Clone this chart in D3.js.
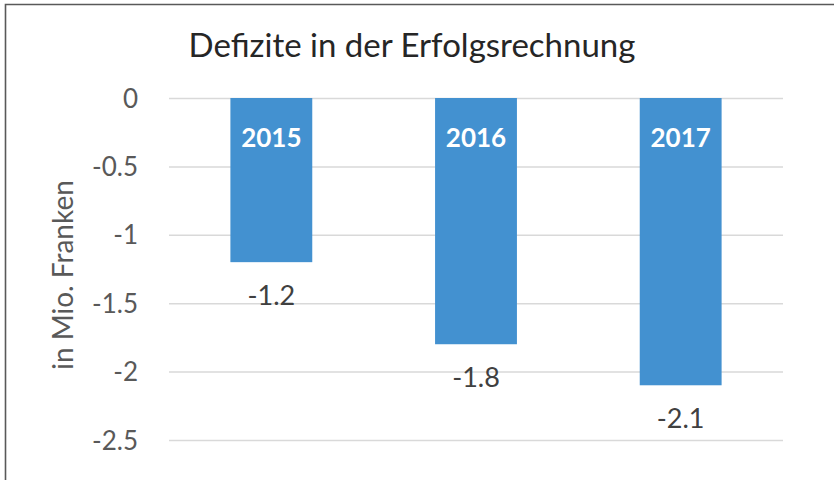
<!doctype html>
<html>
<head>
<meta charset="utf-8">
<script src="https://cdnjs.cloudflare.com/ajax/libs/d3/7.8.5/d3.min.js"></script>
<style>
  body { margin: 0; background: #fff; }
  svg { display: block; font-family: Lato, "Open Sans", sans-serif; }
</style>
</head>
<body>
<svg id="chart" width="834" height="480"></svg>
<script>
// chart data
var years = ["2015", "2016", "2017"];
var deficits = [-1.2, -1.8, -2.1];
var yTicks = [0, -0.5, -1, -1.5, -2, -2.5];
var titleText = "Defizite in der Erfolgsrechnung";
var yLabelText = "in Mio. Franken";

var svg = d3.select("#chart");

// outer frame (top + left visible only)
svg.append("path")
  .attr("d", "M5.5,480 V4.5 H834")
  .attr("fill", "none")
  .attr("stroke", "#595959")
  .attr("stroke-width", 1.6);

var xScale = d3.scaleBand().domain(years).range([169, 783])
  .paddingInner(0.6).paddingOuter(0.3);
var yScale = d3.scaleLinear().domain([0, -2.5]).range([98, 440]);

// grid lines
var yGrid = d3.axisLeft(yScale).tickValues(yTicks).tickFormat("").tickSize(-(783 - 169));
var gridG = svg.append("g").attr("transform", "translate(169,0)").call(yGrid);
gridG.select(".domain").remove();
gridG.selectAll("line").attr("stroke", "#d9d9d9").attr("stroke-width", 1.5);

// y axis labels
var yAxis = d3.axisLeft(yScale).tickValues(yTicks).tickSize(0).tickPadding(0)
  .tickFormat(function(d) { return String(d); });
var axG = svg.append("g").attr("transform", "translate(138,0)").call(yAxis);
axG.select(".domain").remove();
axG.selectAll("text")
  .attr("font-family", "Lato, sans-serif")
  .attr("font-size", 26)
  .attr("fill", "#595959")
  .attr("dy", "0.35em");

// bars
svg.selectAll("rect.bar").data(deficits).enter().append("rect")
  .attr("class", "bar")
  .attr("x", function(d, i) { return xScale(years[i]); })
  .attr("y", yScale(0))
  .attr("width", xScale.bandwidth())
  .attr("height", function(d) { return yScale(d) - yScale(0); })
  .attr("fill", "#4391d0");

// category labels inside bars
svg.selectAll("text.cat").data(years).enter().append("text")
  .attr("class", "cat")
  .attr("x", function(d) { return xScale(d) + xScale.bandwidth() / 2; })
  .attr("y", 138)
  .attr("dy", "0.35em")
  .attr("text-anchor", "middle")
  .attr("font-size", 26)
  .attr("font-weight", "bold")
  .attr("fill", "#ffffff")
  .text(function(d) { return d; });

// value labels below bars
svg.selectAll("text.val").data(deficits).enter().append("text")
  .attr("class", "val")
  .attr("x", function(d, i) { return xScale(years[i]) + xScale.bandwidth() / 2; })
  .attr("y", function(d) { return yScale(d) + 33; })
  .attr("dy", "0.35em")
  .attr("text-anchor", "middle")
  .attr("font-size", 27)
  .attr("fill", "#404040")
  .text(function(d) { return String(d); });

// title
svg.append("text")
  .attr("x", 412).attr("y", 45)
  .attr("dy", "0.35em")
  .attr("text-anchor", "middle")
  .attr("font-size", 33)
  .attr("fill", "#262626")
  .text(titleText);

// y axis title
svg.append("text")
  .attr("transform", "translate(73,275) rotate(-90)")
  .attr("text-anchor", "middle")
  .attr("font-size", 28)
  .attr("fill", "#595959")
  .text(yLabelText);
</script>
</body>
</html>
